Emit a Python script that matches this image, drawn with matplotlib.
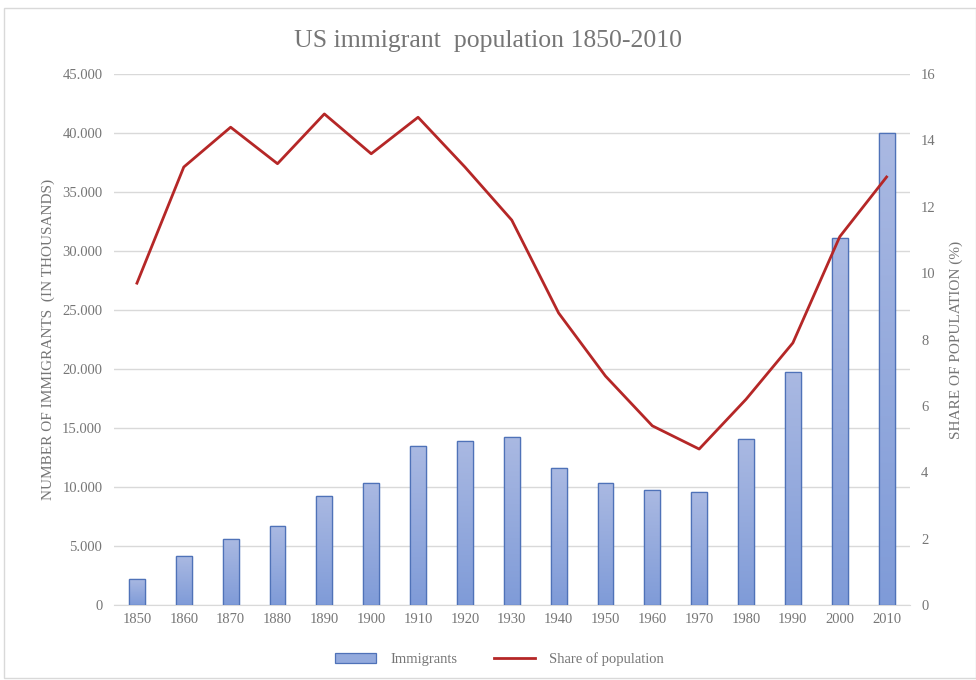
import matplotlib
matplotlib.use("Agg")
import matplotlib.pyplot as plt
import numpy as np
from matplotlib.patches import Rectangle
from matplotlib.ticker import FuncFormatter

years = ["1850", "1860", "1870", "1880", "1890", "1900", "1910", "1920", "1930",
         "1940", "1950", "1960", "1970", "1980", "1990", "2000", "2010"]
immigrants = [2244, 4139, 5567, 6680, 9250, 10341, 13516, 13921, 14204,
              11595, 10347, 9738, 9619, 14080, 19767, 31108, 40000]
share = [9.7, 13.2, 14.4, 13.3, 14.8, 13.6, 14.7, 13.2, 11.6,
         8.8, 6.9, 5.4, 4.7, 6.2, 7.9, 11.1, 12.9]

plt.rcParams['font.family'] = ['Liberation Serif', 'DejaVu Serif']
text_col = "#767676"
grid_col = "#d9d9d9"

fig = plt.figure(figsize=(9.76, 6.8), dpi=100)
ax = fig.add_axes([0.1163, 0.1103, 0.8161, 0.7807])
ax2 = ax.twinx()

x = np.arange(len(years))
bw = 0.34
bars = ax.bar(x, immigrants, width=bw, color="#93aadd", edgecolor="#4f72b8",
              linewidth=0.9, zorder=3, label="Immigrants")

# vertical gradient inside each bar
grad = np.linspace(0, 1, 256).reshape(-1, 1)
cmap = matplotlib.colors.LinearSegmentedColormap.from_list("g", ["#7f9bd8", "#aab9e2"])
for b in bars:
    x0, y0 = b.get_x(), b.get_y()
    w, h = b.get_width(), b.get_height()
    im = ax.imshow(grad, extent=[x0, x0 + w, y0, y0 + h], origin="lower",
                   aspect="auto", cmap=cmap, zorder=3.5)
    im.set_clip_path(b)
    edge = Rectangle((x0, y0), w, h, fill=False, edgecolor="#4f72b8",
                     linewidth=0.9, zorder=4)
    ax.add_patch(edge)

ax2.plot(x, share, color="#b52727", linewidth=2.0, zorder=5, label="Share of population")

ax.set_xlim(-0.5, len(years) - 0.5)
ax.set_ylim(0, 45000)
ax.set_yticks(np.arange(0, 45001, 5000))
ax.yaxis.set_major_formatter(FuncFormatter(lambda v, p: "0" if v == 0 else f"{int(v):,}".replace(",", ".")))
ax2.set_ylim(0, 16)
ax2.set_yticks(np.arange(0, 17, 2))

ax.set_xticks(x)
ax.set_xticklabels(years)
ax.grid(axis="y", color=grid_col, linewidth=1.0, zorder=0)
ax.set_axisbelow(True)

for a in (ax, ax2):
    for s in a.spines.values():
        s.set_visible(False)
    a.tick_params(length=0, labelsize=10.5, colors=text_col, pad=8)
ax.spines["bottom"].set_visible(True)
ax.spines["bottom"].set_color(grid_col)
ax.tick_params(axis="x", pad=6)

ax.set_ylabel("NUMBER OF IMMIGRANTS  (IN THOUSANDS)", color=text_col, fontsize=11, labelpad=5)
ax2.set_ylabel("SHARE OF POPULATION (%)", color=text_col, fontsize=11, labelpad=10)

fig.text(0.5, 0.939, "US immigrant  population 1850-2010", ha="center", va="center",
         fontsize=18.5, color=text_col)

h1, l1 = ax.get_legend_handles_labels()
h2, l2 = ax2.get_legend_handles_labels()
fig.legend(h1 + h2, l1 + l2, loc="center", bbox_to_anchor=(0.512, 0.031), ncol=2,
           frameon=False, fontsize=10.5, labelcolor=text_col, handlelength=2.8,
           columnspacing=2.5, handletextpad=1.0)

fig.patches.append(Rectangle((4 / 976, 2 / 680), 972 / 976, 670 / 680, transform=fig.transFigure,
                             fill=False, edgecolor="#d9d9d9", linewidth=1.0))

fig.savefig("out.png", dpi=100)
